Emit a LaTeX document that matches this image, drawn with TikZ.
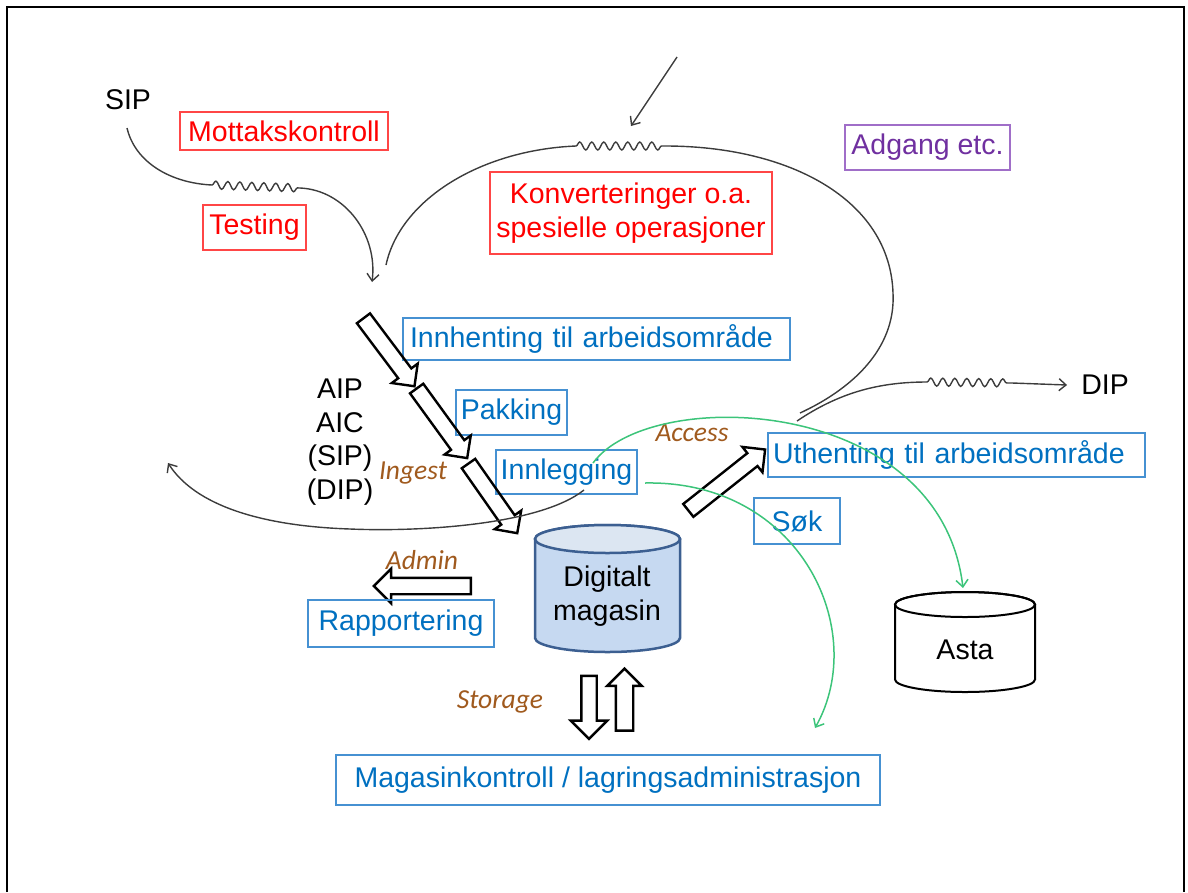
\documentclass[tikz,border=0pt]{standalone}
\usepackage{fontspec}
\setmainfont{Liberation Sans}
\newfontfamily\labelfont{Carlito}
\usetikzlibrary{shapes.arrows,decorations.pathmorphing,arrows.meta}

\definecolor{txtblue}{RGB}{0,112,192}
\definecolor{boxblue}{RGB}{70,145,210}
\definecolor{boxred}{RGB}{255,70,70}
\definecolor{txtpurple}{RGB}{112,48,160}
\definecolor{boxpurple}{RGB}{160,110,200}
\definecolor{lblbrown}{RGB}{160,90,30}
\definecolor{flowgreen}{RGB}{60,196,122}
\definecolor{flowgrey}{RGB}{60,60,60}
\definecolor{magfill}{RGB}{198,217,241}
\definecolor{magtop}{RGB}{220,230,242}
\definecolor{magline}{RGB}{60,95,145}

\newcommand\slidefont{\fontsize{28.5}{33.5}\selectfont}
\newcommand\lblfont{\labelfont\itshape\fontsize{27.5}{30}\selectfont}

\tikzset{
  >={Straight Barb[length=7pt,width=12pt]},
  bluebox/.style={draw=boxblue, line width=1.3pt, text=txtblue, font=\slidefont, inner sep=0pt},
  redbox/.style={draw=boxred, line width=1.3pt, text=red, font=\slidefont, inner sep=0pt},
  purplebox/.style={draw=boxpurple, line width=1.3pt, text=txtpurple, font=\slidefont, inner sep=0pt},
  plaintext/.style={font=\slidefont, inner sep=0pt},
  phase/.style={font=\lblfont, text=lblbrown, inner sep=0pt},
  hollow/.style={single arrow, draw, line width=2.4pt, inner xsep=0pt, inner ysep=7pt, single arrow head extend=8pt},
  flow/.style={draw=flowgrey, line width=1.4pt},
  access/.style={draw=flowgreen, line width=1.5pt},
  squiggle/.style={decoration={snake, amplitude=4pt, segment length=12pt}}
}

\begin{document}
\begin{tikzpicture}[x=1pt,y=-1pt]
\useasboundingbox (0,0) rectangle (1188,892);

% frame:
\draw[line width=1.5pt] (7,892) -- (7,7) -- (1184,7) -- (1184,892);

% top part:
\node[plaintext] (sip) at (128,100) {SIP};
\node[redbox, minimum width=208pt, minimum height=38pt] (mottak) at (284,131) {Mottakskontroll};
\node[redbox, minimum width=103pt, minimum height=45pt] (testing) at (254.5,227.5) {Testing};
\node[redbox, minimum width=282pt, minimum height=82pt, align=center] (konv) at (631,213) {Konverteringer o.a.\\spesielle operasjoner};
\node[purplebox, minimum width=165pt, minimum height=45pt] (adgang) at (927.5,147.5) {Adgang etc.};

% ingest chain:
\node[bluebox, text width=373pt, inner xsep=7pt, minimum height=42pt, align=left] (innhent) at (596.5,339) {Innhenting til arbeidsområde};
\node[bluebox, minimum width=111pt, minimum height=45pt] (pakking) at (511.5,412.5) {Pakking};
\node[bluebox, minimum width=141pt, minimum height=44pt] (innleg) at (566.5,472) {Innlegging};
\node[plaintext, align=center] (pakker) at (340,442) {AIP\\AIC\\(SIP)\\(DIP)};
\node[phase] (ingest) at (413,473) {Ingest};

\node[hollow, minimum height=85pt, rotate=-53.1] (arr1) at (386.5,349) {};
\node[hollow, minimum height=86pt, rotate=-54] (arr2) at (439.5,420) {};
\node[hollow, minimum height=85pt, rotate=-55] (arr3) at (490.5,495) {};

% access side:
\node[bluebox, text width=367pt, inner xsep=5pt, minimum height=44pt, align=left] (uthent) at (956.5,455) {Uthenting til arbeidsområde};
\node[bluebox, minimum width=86pt, minimum height=46pt] (sok) at (797,521) {Søk};
\node[phase] (access) at (692,433) {Access};
\node[plaintext] (dip) at (1105,385) {DIP};
\node[hollow, minimum height=98pt, rotate=38.4] (arr4) at (723.5,482.5) {};

% stores:
\filldraw[fill=magfill, draw=magline, line width=2.5pt] (535,539) -- (535,638)
  arc[start angle=180, end angle=0, x radius=72.5, y radius=14] -- (680,539)
  arc[start angle=0, end angle=-180, x radius=72.5, y radius=14] -- cycle;
\filldraw[fill=magtop, draw=magline, line width=2.5pt] (607.5,539) ellipse[x radius=72.5, y radius=14];
\node[plaintext, align=center] (magasin) at (607,596) {Digitalt\\magasin};

\draw[line width=2pt] (895,604.5) -- (895,679.5)
  arc[start angle=180, end angle=0, x radius=70, y radius=12.5] -- (1035,604.5)
  arc[start angle=0, end angle=-180, x radius=70, y radius=12.5] -- cycle;
\draw[line width=2pt] (965,604.5) ellipse[x radius=70, y radius=12.5];
\node[plaintext] (asta) at (965,650) {Asta};

% admin and storage:
\node[phase] (admin) at (422,560) {Admin};
\node[hollow, minimum height=97pt, single arrow head extend=9pt, rotate=180] (arr5) at (426.5,586) {};
\node[bluebox, minimum width=186pt, minimum height=47pt] (rapport) at (401,623.5) {Rapportering};
\node[phase] (storage) at (500,702) {Storage};
\node[hollow, minimum height=63pt, inner ysep=6.5pt, single arrow head extend=10.5pt, rotate=-90] (arr6) at (589,703.5) {};
\node[hollow, minimum height=62pt, inner ysep=7.5pt, single arrow head extend=8.5pt, rotate=90] (arr7) at (624.5,704) {};
\node[bluebox, minimum width=544pt, minimum height=50pt] (lagring) at (608,780) {Magasinkontroll / lagringsadministrasjon};

% grey flow lines:
\coordinate (sipend) at (127,128);
\draw[flow,->] (sipend) .. controls (135,162) and (170,183) .. (212,185)
  decorate[squiggle] {-- (300,188)}
  .. controls (345,190) and (378,235) .. (372,282);

\coordinate (konvend) at (386,265);
\coordinate (konvstart) at (800,413);
\draw[flow] (konvend) .. controls (400,200) and (480,150) .. (576,146)
  decorate[squiggle] {-- (665,146)}
  .. controls (790,146) and (890,200) .. (893,293)
  .. controls (896,350) and (850,390) .. (konvstart);

\coordinate (topstart) at (677,57);
\coordinate (topend) at (631,126);
\draw[flow,->] (topstart) -- (topend);

\coordinate (dipstart) at (797,421);
\draw[flow,->] (dipstart) .. controls (840,392) and (880,382) .. (927,382)
  decorate[squiggle] {-- (1012,383)} -- ([xshift=-14pt]dip.west);

\coordinate (adminstart) at (584,490);
\coordinate (adminend) at (168,463);
\draw[flow,->] (adminstart) .. controls (540,525) and (420,532) .. (350,529)
  .. controls (260,526) and (195,505) .. (adminend);

% green lines:
\coordinate (accstart) at (593,463);
\coordinate (accend) at (963,588);
\draw[access,->] (accstart) .. controls (650,385) and (940,395) .. (accend);

\coordinate (sokstart) at (645,483);
\coordinate (sokend) at (815,728);
\draw[access,->] (sokstart) .. controls (800,480) and (870,630) .. (sokend);

\end{tikzpicture}
\end{document}
